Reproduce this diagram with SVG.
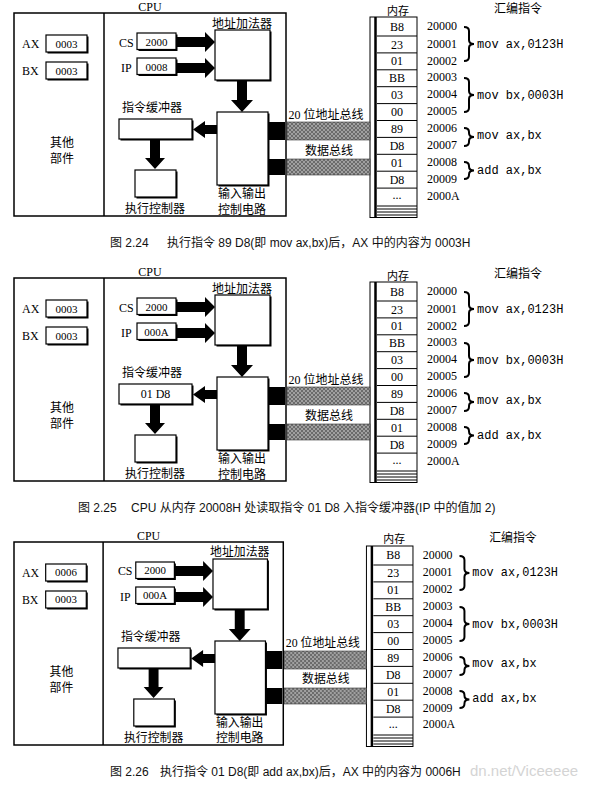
<svg xmlns="http://www.w3.org/2000/svg" width="595" height="790" viewBox="0 0 595 790">
<style>
.fr{fill:none;stroke:#000;stroke-width:1.5}
.bx{fill:#fff;stroke:#000;stroke-width:1.2}
.sh{fill:#000}
.ar{fill:#000}
.t{font-family:"Liberation Serif","Noto Sans CJK SC",serif;font-size:12px;fill:#000}
.v{font-size:11px}
.k{font-size:11px}
.m{font-family:"Liberation Mono",monospace;font-size:12px;fill:#000}
.c{text-anchor:middle}
.cap{font-family:"Liberation Sans","Noto Sans CJK SC",sans-serif;font-size:12px;fill:#111}
.hl{stroke:#000;stroke-width:1}
.br{fill:none;stroke:#000;stroke-width:2}
.bus{fill:url(#hatch);stroke:#333;stroke-width:0.6}
.wm{font-family:"Liberation Sans",sans-serif;font-size:15px;fill:#d4d4d4}
</style>
<defs>
<pattern id="hatch" width="4" height="4" patternUnits="userSpaceOnUse">
<rect width="4" height="4" fill="#a0a0a0"/>
<path d="M0,0 L4,4 M4,0 L0,4" stroke="#555" stroke-width="0.7"/>
</pattern>
<g id="memcells">
<rect x="370" y="17" width="47" height="200.5" fill="#fff" stroke="#000" stroke-width="1"/>
<line x1="375.5" y1="17" x2="375.5" y2="217.5" stroke="#000" stroke-width="2.5"/>
<path class="hl" d="M377,36H417M377,52.9H417M377,69.8H417M377,86.7H417M377,103.6H417M377,120.5H417M377,137.4H417M377,154.3H417M377,171.2H417M377,188.1H417M377,206H417M377,209H417M377,212H417M377,215H417"/>
</g>
</defs>

<!-- ===== Panel 1 ===== -->
<g id="p1">
<g id="p1-cpu"><text class="t c" x="150" y="11">CPU</text><rect class="fr" x="14" y="13" width="272" height="203"/><line class="fr" x1="104" y1="13" x2="104" y2="216"/></g>
<g id="p1-ax"><text class="t" x="22" y="48">AX</text><rect class="sh" x="47.5" y="36.5" width="41" height="17"/><rect class="bx" x="46" y="35" width="41" height="17"/><text class="t v c" x="66.5" y="47.5">0003</text></g>
<g id="p1-bx"><text class="t" x="22" y="75">BX</text><rect class="sh" x="47.5" y="63.5" width="41" height="17"/><rect class="bx" x="46" y="62" width="41" height="17"/><text class="t v c" x="66.5" y="74.5">0003</text></g>
<g id="p1-other"><text class="t c" x="62" y="147">其他</text><text class="t c" x="62" y="163">部件</text></g>
<g id="p1-cs"><text class="t" x="119" y="46.5">CS</text><rect class="sh" x="138.5" y="34.5" width="39" height="16.5"/><rect class="bx" x="137" y="33" width="39" height="16.5"/><text class="t v c" x="156.5" y="45.5">2000</text></g>
<g id="p1-ip"><text class="t" x="121" y="72">IP</text><rect class="sh" x="138.5" y="59.5" width="39" height="16.5"/><rect class="bx" x="137" y="58" width="39" height="16.5"/><text class="t v c" x="156.5" y="70.5">0008</text></g>
<g id="p1-adder"><text class="t c" x="242" y="27.5">地址加法器</text><rect class="sh" x="216.5" y="31.5" width="55" height="50"/><rect class="bx" x="215" y="30" width="55" height="50"/></g>
<g id="p1-io"><rect class="sh" x="218.5" y="113.5" width="51" height="73"/><rect class="bx" x="217" y="112" width="51" height="73"/><text class="t c" x="242" y="198">输入输出</text><text class="t c" x="242" y="213.5">控制电路</text></g>
<g id="p1-buf"><text class="t c" x="152" y="112">指令缓冲器</text><rect class="sh" x="120.5" y="120.5" width="73" height="20"/><rect class="bx" x="119" y="119" width="73" height="20"/></g>
<g id="p1-exec"><rect class="sh" x="136.5" y="171.5" width="41" height="27"/><rect class="bx" x="135" y="170" width="41" height="27"/><text class="t c" x="155" y="213">执行控制器</text></g>
<g id="p1-mem">
<text class="t k c" x="398" y="14.5">内存</text>
<use href="#memcells"/>
<text class="t c" x="397" y="30.5">B8</text><text class="t c" x="397" y="48.5">23</text><text class="t c" x="397" y="65.4">01</text><text class="t c" x="397" y="82.3">BB</text><text class="t c" x="397" y="99.2">03</text><text class="t c" x="397" y="116">00</text><text class="t c" x="397" y="133">89</text><text class="t c" x="397" y="149.9">D8</text><text class="t c" x="397" y="166.8">01</text><text class="t c" x="397" y="183.7">D8</text><text class="t c" x="397" y="199">...</text>
<text class="t" x="427" y="30">20000</text><text class="t" x="427" y="47.5">20001</text><text class="t" x="427" y="64.5">20002</text><text class="t" x="427" y="81.3">20003</text><text class="t" x="427" y="98.2">20004</text><text class="t" x="427" y="115">20005</text><text class="t" x="427" y="132">20006</text><text class="t" x="427" y="148.9">20007</text><text class="t" x="427" y="165.8">20008</text><text class="t" x="427" y="182.7">20009</text><text class="t" x="427" y="199.5">2000A</text>
</g>
<g id="p1-asm">
<text class="t c" x="518" y="13">汇编指令</text>
<text class="m" x="477" y="47.5">mov ax,0123H</text><text class="m" x="477" y="99">mov bx,0003H</text><text class="m" x="477" y="138.5">mov ax,bx</text><text class="m" x="477" y="173.5">add ax,bx</text>
</g>
<g id="p1-conn">
<polygon class="ar" points="176,37 205,37 205,32 215,42 205,52 205,47 176,47"/>
<polygon class="ar" points="176,63 205,63 205,58 215,68 205,78 205,73 176,73"/>
<polygon class="ar" points="237,80 247,80 247,100 253,100 242,112 231,100 237,100"/>
<polygon class="ar" points="217,125 205,125 205,121 193,129.5 205,138 205,134 217,134"/>
<polygon class="ar" points="150,139 160,139 160,158 165,158 155,169 145,158 150,158"/>
<rect class="sh" x="268" y="122" width="17" height="18"/><rect class="sh" x="268" y="159" width="17" height="16"/>
<rect class="bus" x="287" y="122" width="83" height="18"/><rect class="bus" x="287" y="159" width="83" height="16"/>
<text class="t c" x="326" y="118.5">20 位地址总线</text><text class="t c" x="329" y="154.5">数据总线</text>
<path class="br" d="M464,27 Q469,27 469,31 L469,40 Q469,44 474,44 Q469,44 469,48 L469,57 Q469,61 464,61"/>
<path class="br" d="M464,78 Q469,78 469,82 L469,91 Q469,95 474,95 Q469,95 469,99 L469,108 Q469,112 464,112"/>
<path class="br" d="M464,128 Q469,128 469,132 L469,133 Q469,137 474,137 Q469,137 469,141 L469,142 Q469,146 464,146"/>
<path class="br" d="M464,162 Q469,162 469,166 L469,166.5 Q469,170.5 474,170.5 Q469,170.5 469,174.5 L469,175 Q469,179 464,179"/>
</g>
</g>
<g id="cap1"><text class="cap" x="110" y="247">图 2.24</text><text class="cap" x="167" y="247">执行指令 89 D8(即 mov ax,bx)后，AX 中的内容为 0003H</text></g>

<!-- ===== Panel 2 ===== -->
<g id="p2" transform="translate(0,265)">
<g id="p2-cpu"><text class="t c" x="150" y="11">CPU</text><rect class="fr" x="14" y="13" width="272" height="203"/><line class="fr" x1="104" y1="13" x2="104" y2="216"/></g>
<g id="p2-ax"><text class="t" x="22" y="48">AX</text><rect class="sh" x="47.5" y="36.5" width="41" height="17"/><rect class="bx" x="46" y="35" width="41" height="17"/><text class="t v c" x="66.5" y="47.5">0003</text></g>
<g id="p2-bx"><text class="t" x="22" y="75">BX</text><rect class="sh" x="47.5" y="63.5" width="41" height="17"/><rect class="bx" x="46" y="62" width="41" height="17"/><text class="t v c" x="66.5" y="74.5">0003</text></g>
<g id="p2-other"><text class="t c" x="62" y="147">其他</text><text class="t c" x="62" y="163">部件</text></g>
<g id="p2-cs"><text class="t" x="119" y="46.5">CS</text><rect class="sh" x="138.5" y="34.5" width="39" height="16.5"/><rect class="bx" x="137" y="33" width="39" height="16.5"/><text class="t v c" x="156.5" y="45.5">2000</text></g>
<g id="p2-ip"><text class="t" x="121" y="72">IP</text><rect class="sh" x="138.5" y="59.5" width="39" height="16.5"/><rect class="bx" x="137" y="58" width="39" height="16.5"/><text class="t v c" x="156.5" y="70.5">000A</text></g>
<g id="p2-adder"><text class="t c" x="242" y="27.5">地址加法器</text><rect class="sh" x="216.5" y="31.5" width="55" height="50"/><rect class="bx" x="215" y="30" width="55" height="50"/></g>
<g id="p2-io"><rect class="sh" x="218.5" y="113.5" width="51" height="73"/><rect class="bx" x="217" y="112" width="51" height="73"/><text class="t c" x="242" y="198">输入输出</text><text class="t c" x="242" y="213.5">控制电路</text></g>
<g id="p2-buf"><text class="t c" x="152" y="112">指令缓冲器</text><rect class="sh" x="120.5" y="120.5" width="73" height="20"/><rect class="bx" x="119" y="119" width="73" height="20"/><text class="t c" x="155.5" y="133">01 D8</text></g>
<g id="p2-exec"><rect class="sh" x="136.5" y="171.5" width="41" height="27"/><rect class="bx" x="135" y="170" width="41" height="27"/><text class="t c" x="155" y="213">执行控制器</text></g>
<g id="p2-mem">
<text class="t k c" x="398" y="14.5">内存</text>
<use href="#memcells"/>
<text class="t c" x="397" y="30.5">B8</text><text class="t c" x="397" y="48.5">23</text><text class="t c" x="397" y="65.4">01</text><text class="t c" x="397" y="82.3">BB</text><text class="t c" x="397" y="99.2">03</text><text class="t c" x="397" y="116">00</text><text class="t c" x="397" y="133">89</text><text class="t c" x="397" y="149.9">D8</text><text class="t c" x="397" y="166.8">01</text><text class="t c" x="397" y="183.7">D8</text><text class="t c" x="397" y="199">...</text>
<text class="t" x="427" y="30">20000</text><text class="t" x="427" y="47.5">20001</text><text class="t" x="427" y="64.5">20002</text><text class="t" x="427" y="81.3">20003</text><text class="t" x="427" y="98.2">20004</text><text class="t" x="427" y="115">20005</text><text class="t" x="427" y="132">20006</text><text class="t" x="427" y="148.9">20007</text><text class="t" x="427" y="165.8">20008</text><text class="t" x="427" y="182.7">20009</text><text class="t" x="427" y="199.5">2000A</text>
</g>
<g id="p2-asm">
<text class="t c" x="518" y="13">汇编指令</text>
<text class="m" x="477" y="47.5">mov ax,0123H</text><text class="m" x="477" y="99">mov bx,0003H</text><text class="m" x="477" y="138.5">mov ax,bx</text><text class="m" x="477" y="173.5">add ax,bx</text>
</g>
<g id="p2-conn">
<polygon class="ar" points="176,37 205,37 205,32 215,42 205,52 205,47 176,47"/>
<polygon class="ar" points="176,63 205,63 205,58 215,68 205,78 205,73 176,73"/>
<polygon class="ar" points="237,80 247,80 247,100 253,100 242,112 231,100 237,100"/>
<polygon class="ar" points="217,125 205,125 205,121 193,129.5 205,138 205,134 217,134"/>
<polygon class="ar" points="150,139 160,139 160,158 165,158 155,169 145,158 150,158"/>
<rect class="sh" x="268" y="122" width="17" height="18"/><rect class="sh" x="268" y="159" width="17" height="16"/>
<rect class="bus" x="287" y="122" width="83" height="18"/><rect class="bus" x="287" y="159" width="83" height="16"/>
<text class="t c" x="326" y="118.5">20 位地址总线</text><text class="t c" x="329" y="154.5">数据总线</text>
<path class="br" d="M464,27 Q469,27 469,31 L469,40 Q469,44 474,44 Q469,44 469,48 L469,57 Q469,61 464,61"/>
<path class="br" d="M464,78 Q469,78 469,82 L469,91 Q469,95 474,95 Q469,95 469,99 L469,108 Q469,112 464,112"/>
<path class="br" d="M464,128 Q469,128 469,132 L469,133 Q469,137 474,137 Q469,137 469,141 L469,142 Q469,146 464,146"/>
<path class="br" d="M464,162 Q469,162 469,166 L469,166.5 Q469,170.5 474,170.5 Q469,170.5 469,174.5 L469,175 Q469,179 464,179"/>
</g>
</g>
<g id="cap2"><text class="cap" x="78" y="512">图 2.25</text><text class="cap" x="131" y="512">CPU 从内存 20008H 处读取指令 01 D8 入指令缓冲器(IP 中的值加 2)</text></g>

<!-- ===== Panel 3 ===== -->
<g id="p3" transform="translate(0.14,529) scale(0.99,1)">
<g id="p3-cpu"><text class="t c" x="150" y="11">CPU</text><rect class="fr" x="14" y="13" width="272" height="203"/><line class="fr" x1="104" y1="13" x2="104" y2="216"/></g>
<g id="p3-ax"><text class="t" x="22" y="48">AX</text><rect class="sh" x="47.5" y="36.5" width="41" height="17"/><rect class="bx" x="46" y="35" width="41" height="17"/><text class="t v c" x="66.5" y="47.5">0006</text></g>
<g id="p3-bx"><text class="t" x="22" y="75">BX</text><rect class="sh" x="47.5" y="63.5" width="41" height="17"/><rect class="bx" x="46" y="62" width="41" height="17"/><text class="t v c" x="66.5" y="74.5">0003</text></g>
<g id="p3-other"><text class="t c" x="62" y="147">其他</text><text class="t c" x="62" y="163">部件</text></g>
<g id="p3-cs"><text class="t" x="119" y="46.5">CS</text><rect class="sh" x="138.5" y="34.5" width="39" height="16.5"/><rect class="bx" x="137" y="33" width="39" height="16.5"/><text class="t v c" x="156.5" y="45.5">2000</text></g>
<g id="p3-ip"><text class="t" x="121" y="72">IP</text><rect class="sh" x="138.5" y="59.5" width="39" height="16.5"/><rect class="bx" x="137" y="58" width="39" height="16.5"/><text class="t v c" x="156.5" y="70.5">000A</text></g>
<g id="p3-adder"><text class="t c" x="242" y="27.5">地址加法器</text><rect class="sh" x="216.5" y="31.5" width="55" height="50"/><rect class="bx" x="215" y="30" width="55" height="50"/></g>
<g id="p3-io"><rect class="sh" x="218.5" y="113.5" width="51" height="73"/><rect class="bx" x="217" y="112" width="51" height="73"/><text class="t c" x="242" y="198">输入输出</text><text class="t c" x="242" y="213.5">控制电路</text></g>
<g id="p3-buf"><text class="t c" x="152" y="112">指令缓冲器</text><rect class="sh" x="120.5" y="120.5" width="73" height="20"/><rect class="bx" x="119" y="119" width="73" height="20"/></g>
<g id="p3-exec"><rect class="sh" x="136.5" y="171.5" width="41" height="27"/><rect class="bx" x="135" y="170" width="41" height="27"/><text class="t c" x="155" y="213">执行控制器</text></g>
<g id="p3-mem">
<text class="t k c" x="398" y="14.5">内存</text>
<use href="#memcells"/>
<text class="t c" x="397" y="30.5">B8</text><text class="t c" x="397" y="48.5">23</text><text class="t c" x="397" y="65.4">01</text><text class="t c" x="397" y="82.3">BB</text><text class="t c" x="397" y="99.2">03</text><text class="t c" x="397" y="116">00</text><text class="t c" x="397" y="133">89</text><text class="t c" x="397" y="149.9">D8</text><text class="t c" x="397" y="166.8">01</text><text class="t c" x="397" y="183.7">D8</text><text class="t c" x="397" y="199">...</text>
<text class="t" x="427" y="30">20000</text><text class="t" x="427" y="47.5">20001</text><text class="t" x="427" y="64.5">20002</text><text class="t" x="427" y="81.3">20003</text><text class="t" x="427" y="98.2">20004</text><text class="t" x="427" y="115">20005</text><text class="t" x="427" y="132">20006</text><text class="t" x="427" y="148.9">20007</text><text class="t" x="427" y="165.8">20008</text><text class="t" x="427" y="182.7">20009</text><text class="t" x="427" y="199.5">2000A</text>
</g>
<g id="p3-asm">
<text class="t c" x="518" y="13">汇编指令</text>
<text class="m" x="477" y="47.5">mov ax,0123H</text><text class="m" x="477" y="99">mov bx,0003H</text><text class="m" x="477" y="138.5">mov ax,bx</text><text class="m" x="477" y="173.5">add ax,bx</text>
</g>
<g id="p3-conn">
<polygon class="ar" points="176,37 205,37 205,32 215,42 205,52 205,47 176,47"/>
<polygon class="ar" points="176,63 205,63 205,58 215,68 205,78 205,73 176,73"/>
<polygon class="ar" points="237,80 247,80 247,100 253,100 242,112 231,100 237,100"/>
<polygon class="ar" points="217,125 205,125 205,121 193,129.5 205,138 205,134 217,134"/>
<polygon class="ar" points="150,139 160,139 160,158 165,158 155,169 145,158 150,158"/>
<rect class="sh" x="268" y="122" width="17" height="18"/><rect class="sh" x="268" y="159" width="17" height="16"/>
<rect class="bus" x="287" y="122" width="83" height="18"/><rect class="bus" x="287" y="159" width="83" height="16"/>
<text class="t c" x="326" y="118.5">20 位地址总线</text><text class="t c" x="329" y="154.5">数据总线</text>
<path class="br" d="M464,27 Q469,27 469,31 L469,40 Q469,44 474,44 Q469,44 469,48 L469,57 Q469,61 464,61"/>
<path class="br" d="M464,78 Q469,78 469,82 L469,91 Q469,95 474,95 Q469,95 469,99 L469,108 Q469,112 464,112"/>
<path class="br" d="M464,128 Q469,128 469,132 L469,133 Q469,137 474,137 Q469,137 469,141 L469,142 Q469,146 464,146"/>
<path class="br" d="M464,162 Q469,162 469,166 L469,166.5 Q469,170.5 474,170.5 Q469,170.5 469,174.5 L469,175 Q469,179 464,179"/>
</g>
</g>
<g id="cap3"><text class="cap" x="110" y="775.5">图 2.26</text><text class="cap" x="160" y="775.5">执行指令 01 D8(即 add ax,bx)后，AX 中的内容为 0006H</text><text class="wm" x="470" y="776">dn.net/Viceeeee</text></g>
</svg>
